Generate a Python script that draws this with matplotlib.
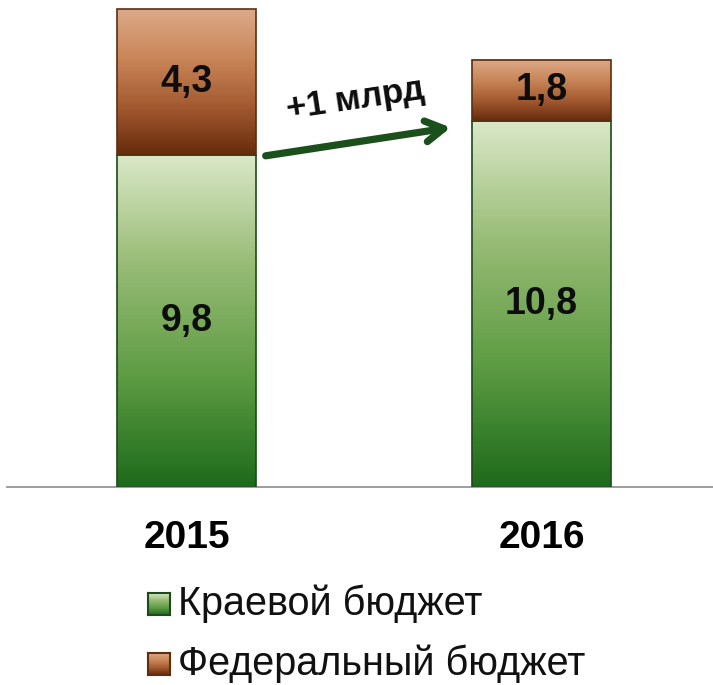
import numpy as np
import matplotlib
matplotlib.use("Agg")
import matplotlib.pyplot as plt
from matplotlib.colors import LinearSegmentedColormap

plt.rcParams['font.family'] = ['Liberation Sans', 'DejaVu Sans']

# data
years = ['2015', '2016']
kraevoy = [9.8, 10.8]
federal = [4.3, 1.8]
kraevoy_labels = ['9,8', '10,8']
federal_labels = ['4,3', '1,8']
legend_names = ['Краевой бюджет', 'Федеральный бюджет']
arrow_text = '+1 млрд'

green_cm = LinearSegmentedColormap.from_list('g', ['#1d6a1b', '#5e9c43', '#97bb75', '#dbe8c8'])
brown_cm = LinearSegmentedColormap.from_list('b', ['#652b0c', '#a45a31', '#c98658', '#dcaa8a'])
grad = np.linspace(0, 1, 256).reshape(-1, 1)

fig = plt.figure(figsize=(7.13, 6.85), dpi=100)
ax = fig.add_axes([7/713, 1 - 487/685, 1 - 7/713, 487/685])

w = 0.39
x = np.arange(len(years))
for i in range(len(years)):
    k = kraevoy[i]
    f = federal[i]
    ax.imshow(grad, extent=[x[i]-w/2, x[i]+w/2, 0, k], origin='lower',
              aspect='auto', cmap=green_cm, zorder=2)
    ax.imshow(grad, extent=[x[i]-w/2, x[i]+w/2, k, k+f], origin='lower',
              aspect='auto', cmap=brown_cm, zorder=2)
    ax.bar(x[i], k, w, fill=False, edgecolor='#1c4a1a', linewidth=1.2, zorder=3)
    ax.bar(x[i], f, w, bottom=k, fill=False, edgecolor='#5e2e10', linewidth=1.2, zorder=3)
    ax.text(x[i], k/2, kraevoy_labels[i], ha='center', va='center',
            fontsize=27, fontweight='bold', color='#0d0d0d', zorder=4)
    ax.text(x[i], k + f/2, federal_labels[i], ha='center', va='center',
            fontsize=27, fontweight='bold', color='#0d0d0d', zorder=4)

ax.set_xlim(-0.506, 1.483)
ax.set_ylim(0, 14.37)

# arrow between bars
ax.annotate('', xy=(0.752, 10.62), xytext=(0.215, 9.76),
            arrowprops=dict(arrowstyle='->,head_length=1.3,head_width=0.75',
                            color='#1b4f1b', lw=5.2), zorder=5)
ax.text(0.475, 11.45, arrow_text, rotation=8.5, ha='center', va='center',
        fontsize=25, fontweight='bold', color='#0d0d0d', rotation_mode='anchor')

for s in ['top', 'right', 'left']:
    ax.spines[s].set_visible(False)
ax.spines['bottom'].set_color('#8c8c8c')
ax.spines['bottom'].set_linewidth(1.2)
ax.set_yticks([])
ax.set_xticks(x)
ax.set_xticklabels(years, fontsize=28, fontweight='bold')
ax.tick_params(axis='x', length=0, pad=24)

# legend with gradient squares
cms = [green_cm, brown_cm]
edges = ['#1c4a1a', '#5e2e10']
ycent = [604, 664]
for j in range(2):
    lax = fig.add_axes([148/713, 1 - (ycent[j] + 11)/685, 22/713, 22/685])
    lax.imshow(grad, origin='lower', aspect='auto', cmap=cms[j])
    lax.set_xticks([])
    lax.set_yticks([])
    for sp in lax.spines.values():
        sp.set_color(edges[j])
        sp.set_linewidth(1.5)
    fig.text(178/713, 1 - ycent[j]/685, legend_names[j], ha='left', va='center',
             fontsize=28.5, color='#111111')

fig.savefig('out.png', dpi=100)
